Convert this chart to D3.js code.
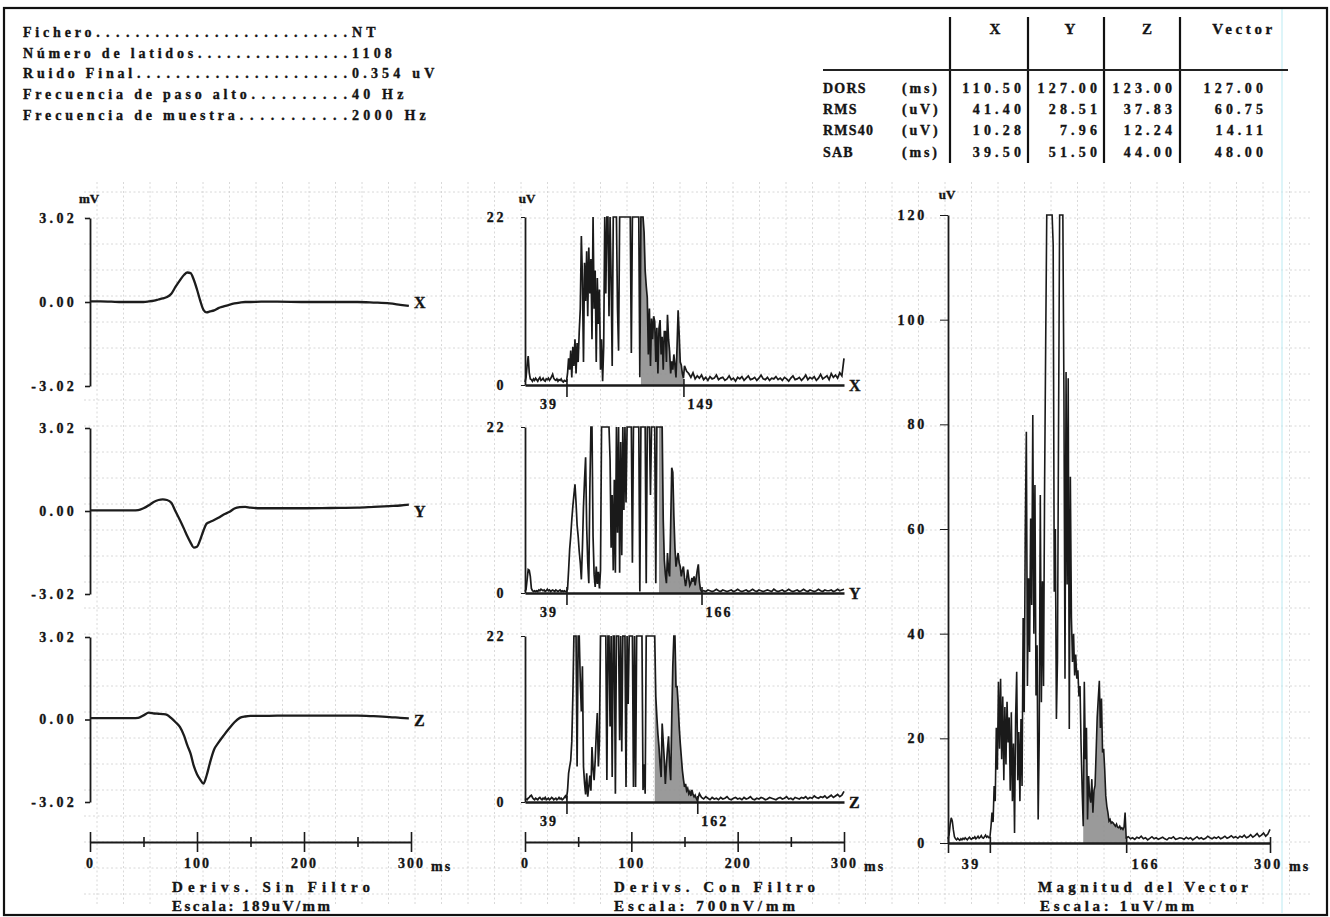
<!DOCTYPE html>
<html><head><meta charset="utf-8">
<script src="https://d3js.org/d3.v7.min.js"></script>
<style>
body{margin:0;background:#fff}
svg{display:block}
text{font-family:"Liberation Serif","DejaVu Serif",serif;font-weight:bold;fill:#141414;stroke:#141414;stroke-width:0.35px}
</style>
</head><body>
<svg id="c" width="1330" height="917"></svg>
<script>
// ---------------- DATA ----------------
const headerLabels = ["Fichero","Número de latidos","Ruido Final","Frecuencia de paso alto","Frecuencia de muestra"];
const headerValues = ["NT","1108","0.354 uV","40 Hz","2000 Hz"];

const tableCols = ["X","Y","Z","Vector"];
const tableRows = ["DORS","RMS","RMS40","SAB"];
const tableUnits = ["(ms)","(uV)","(uV)","(ms)"];
const tableValues = [
  ["110.50","127.00","123.00","127.00"],
  ["41.40","28.51","37.83","60.75"],
  ["10.28","7.96","12.24","14.11"],
  ["39.50","51.50","44.00","48.00"]
];

const leads = ["X","Y","Z"];

// unfiltered leads (mV) sampled at rawMs
const rawMs = [0,10,20,30,40,45,50,55,60,64,68,72,76,80,84,88,91,94,97,100,103,106,109,112,116,120,125,130,135,140,145,150,160,175,200,225,250,265,280,290,298];
const rawX = [0.02,0.02,0.01,0,0,0,0,0.02,0.05,0.09,0.13,0.18,0.3,0.55,0.78,0.98,1.06,1.04,0.8,0.45,0.05,-0.28,-0.37,-0.34,-0.3,-0.22,-0.16,-0.1,-0.05,-0.02,0,0,0.01,0.01,0,0,0,-0.02,-0.05,-0.1,-0.14];
const rawY = [0.02,0.02,0.02,0.02,0.02,0.03,0.1,0.21,0.34,0.4,0.42,0.4,0.3,-0.02,-0.33,-0.66,-0.92,-1.15,-1.33,-1.3,-1.05,-0.72,-0.46,-0.4,-0.33,-0.25,-0.13,-0.04,0.09,0.14,0.15,0.12,0.1,0.1,0.1,0.11,0.12,0.15,0.18,0.2,0.23];
const rawZ = [0.05,0.05,0.05,0.05,0.05,0.06,0.15,0.25,0.22,0.21,0.2,0.17,0.05,-0.1,-0.27,-0.6,-0.95,-1.25,-1.7,-2.0,-2.2,-2.35,-2.05,-1.6,-1.1,-0.85,-0.58,-0.33,-0.1,0.06,0.11,0.13,0.13,0.14,0.14,0.14,0.14,0.12,0.09,0.06,0.04];
const rawTicks = [3.02,0,-3.02];
const rawTickLabels = ["3.02","0.00","-3.02"];

const timeTicks = [0,50,100,150,200,250,300];

// filtered leads (uV): pre-QRS every 1 ms from 0, QRS every 1 ms from onset, post every 2 ms
const filtXPre = [0.4,1.0,2.6,3.8,1.6,0.8,0.7,0.5,0.8,0.6, 0.9,0.7,0.5,0.8,1.0,0.6,0.7,0.9,0.6,0.5, 0.8,0.7,0.9,0.6,0.8,1.1,1.4,0.9,0.7,0.6, 0.8,0.5,0.7,0.6,0.8,0.5,0.4,0.6,0.5];
const filtXQrs = [0.5,1.5,3.5,2.0,4.5,1.0,5.0,2.5,6.0,1.5, 5.5,3.0,7.0,10.0,19.5,14.0,3.0,16.0,11.0,17.5, 9.0,18.0,12.0,16.5,6.0,22,10.0,15.0,3.0,14.0, 8.0,12.5,2.0,6.0,0.5,5.0,22,12.0,22,22, 9.0,22,14.0,2.5,22,22,22,22,10.0,4.5, 22,22,22,22,22,22,22,22,22,22, 22,4.2,22,22,22,22,22,22,22,1.0, 22,22,22,20.0,15.0,13.0,11.4,4.0,10.0,2.5, 8.7,6.0,9.0,8.3,3.0,7.5,1.5,7.4,8.5,4.0, 6.3,2.0,7.0,7.0,3.0,9.2,6.0,4.4,1.5,3.1, 2.0,4.0,2.6,1.0,5.0,9.8,6.6,3.0,2.6,1.5, 0.9];
const filtXPost = [2.5,1.8,1.5,1.0,1.6,0.8,1.2,0.9,1.3,0.7, 1.0,0.6,1.1,0.8,0.9,1.3,0.7,0.9,1.0,0.6, 0.8,1.2,0.7,0.9,0.5,1.0,0.8,1.1,0.6,0.9, 1.2,0.7,0.8,1.0,0.6,0.9,1.3,0.8,0.7,1.0, 0.6,0.9,0.8,1.1,0.7,0.9,0.6,1.0,0.8,0.5, 0.9,1.2,0.7,0.8,1.0,0.6,0.9,1.3,0.7,1.0, 0.8,1.1,0.6,0.9,1.4,0.8,1.0,1.2,0.7,1.5, 1.0,1.3,0.9,1.6,1.2,3.5];

const filtYPre = [0.2,0.5,1.8,3.1,3.0,2.2,0.6,0.3,0.2,0.3, 0.2,0.3,0.2,0.4,0.3,0.5,0.4,0.3,0.4,0.2, 0.3,0.5,0.3,0.4,0.2,0.3,0.4,0.3,0.2,0.4, 0.3,0.2,0.3,0.4,0.2,0.3,0.2,0.3,0.2];
const filtYQrs = [0.2,0.5,3.0,5.8,7.5,9.7,11.5,13.0,14.4,12.0, 9.0,7.5,5.5,4.0,1.8,6.0,11.5,15.0,18.0,8.8, 4.0,1.3,14.0,22,22,7.5,2.5,0.8,3.5,1.2, 2.8,0.6,3.0,22,22,22,22,22,22,22, 22,17.7,6.0,13.0,3.0,15.0,2.7,22,8.0,22, 2.7,20.0,5.0,22,11.0,22,12.0,22,22,22, 22,22,4.0,22,22,22,22,22,22,0.2, 22,22,22,22,22,1.3,22,22,22,13.0, 22,22,22,22,1.3,22,22,22,22,22, 22,9.7,4.4,2.5,1.3,5.3,3.0,2.2,9.0,16.6, 16.0,10.2,6.0,3.5,4.5,5.3,4.0,3.5,2.2,3.0, 3.5,2.0,0.9,1.8,3.1,2.0,1.0,1.3,2.0,1.5, 2.2,1.0,2.0,3.0,3.8,1.5,0.5,0.2];
const filtYPost = [0.3,0.2,0.4,0.3,0.2,0.3,0.5,0.3,0.2,0.4, 0.3,0.2,0.3,0.4,0.2,0.3,0.5,0.3,0.2,0.3, 0.4,0.2,0.3,0.5,0.3,0.2,0.4,0.3,0.2,0.3, 0.4,0.3,0.2,0.5,0.3,0.2,0.3,0.4,0.2,0.3, 0.5,0.3,0.2,0.3,0.4,0.2,0.3,0.5,0.3,0.2, 0.4,0.3,0.2,0.3,0.5,0.3,0.2,0.4,0.3,0.3, 0.4,0.2,0.3,0.5,0.3,0.4,0.5];

const filtZPre = [0.3,0.4,0.3,0.5,0.6,0.8,0.9,0.6,0.4,0.3, 0.5,0.4,0.3,0.5,0.6,0.4,0.3,0.5,0.4,0.6, 0.3,0.4,0.5,0.3,0.4,0.6,0.5,0.3,0.4,0.5, 0.3,0.4,0.6,0.4,0.5,0.3,0.4,0.6,0.8];
const filtZQrs = [0.5,1.5,3.8,4.7,5.5,8.0,14.0,22,22,22, 4.7,22,22,16.0,12.0,18.0,4.7,2.5,1.0,3.8, 0.7,2.0,3.5,1.5,7.3,4.5,2.9,5.5,9.0,11.8, 4.7,8.0,22,22,22,22,22,22,2.9,22, 22,10.0,22,3.3,22,22,1.1,22,22,22, 8.2,22,6.7,22,22,22,2.0,22,13.0,22, 22,22,22,2.0,22,2.0,22,22,22,22, 22,22,1.6,5.0,1.1,22,22,22,22,22, 22,22,22,22,14.0,11.3,9.0,7.3,5.0,3.3, 10.4,8.0,5.6,2.4,5.0,7.0,8.7,5.0,2.9,10.9, 18.0,22,22,15.3,15.3,13.1,10.0,7.8,6.0,4.2, 3.0,2.0,2.4,1.5,1.8,1.1,1.4,0.8,1.6,1.0, 0.7,0.9,0.5,0.2];
const filtZPost = [1.1,0.6,0.4,0.7,0.5,0.3,0.6,0.4,0.5,0.3, 0.6,0.4,0.5,0.7,0.4,0.3,0.5,0.6,0.4,0.5, 0.3,0.6,0.4,0.5,0.7,0.4,0.3,0.5,0.4,0.6, 0.5,0.3,0.4,0.6,0.5,0.4,0.3,0.5,0.6,0.4, 0.5,0.7,0.4,0.5,0.3,0.6,0.5,0.4,0.6,0.5, 0.7,0.4,0.6,0.5,0.8,0.6,0.5,0.7,0.6,0.8, 0.5,0.7,0.9,0.6,0.8,1.0,0.7,0.9,1.4];

const vecPre = [0.8,1.5,3.5,4.8,4.2,2.5,1.2,0.8,0.6,0.9, 0.7,0.5,0.8,0.6,0.9,0.7,1.0,0.8,0.6,0.9, 1.1,0.8,0.7,1.0,0.9,1.2,0.8,1.0,1.3,0.9, 1.1,1.4,1.0,0.9,1.2,1.5,1.1,1.3,1.0];
const vecQrs = [1.0,3.0,5.8,4.0,10.9,8.0,22.0,14.0,30.8,18.0, 31.4,16.0,28.0,12.0,26.0,15.0,27.0,19.2,24.0,10.0, 25.0,8.0,19.0,1.9,24.0,32.7,12.0,21.2,8.0,23.7, 10.9,43.0,25.0,60.0,78.6,30.0,50.6,36.5,62.0,45.5, 81.8,40.0,68.4,28.2,37.8,4.5,20.0,66.5,26.9,50.0, 30.0,68.4,95.0,120,120,120,120,120,120,114.3, 48.0,60.0,23.7,35.0,80.0,120,120,120,120,86.2, 31.4,90.0,49.4,88.8,21.8,70.0,43.0,34.6,40.0,32.0, 36.0,31.4,33.0,28.0,30.0,18.6,10.0,3.2,30.8,16.0, 22.0,4.5,12.8,9.0,7.7,12.2,5.8,10.0,11.0,17.3, 24.0,27.6,31.0,22.0,27.6,17.3,18.0,14.1,9.0,7.0, 5.8,4.2,4.5,3.8,4.0,3.8,3.5,3.2,3.6,3.0, 2.9,3.2,2.7,2.9,2.6,3.0,5.8,1.0];
const vecPost = [1.2,0.8,1.0,0.7,1.1,0.9,1.3,0.8,1.0,0.6, 0.9,1.2,0.8,1.0,0.7,0.9,1.1,0.8,0.6,1.0, 0.9,1.2,0.7,0.8,1.0,0.9,0.7,1.1,0.8,1.0, 0.6,0.9,1.2,0.8,1.0,0.7,0.9,1.3,1.0,0.8, 1.1,0.9,1.2,0.8,1.0,1.3,0.9,1.1,1.4,1.0, 1.2,0.9,1.3,1.1,1.5,1.0,1.2,1.6,1.1,1.4, 1.8,1.2,1.5,1.9,1.3,1.7,2.6];

const qrsOnset = [39,39,39];
const qrsOffset = [149,166,162];
const vecOnset = 39, vecOffset = 166;
const filtMax = 22, vecMax = 120;
const vecTicks = [0,20,40,60,80,100,120];
const footerLines = [
  ["Derivs. Sin Filtro","Escala: 189uV/mm"],
  ["Derivs. Con Filtro","Escala: 700nV/mm"],
  ["Magnitud del Vector","Escala: 1uV/mm"]
];

// ---------------- DRAW ----------------
const svg = d3.select("#c");
svg.append("rect").attr("width",1330).attr("height",917).attr("fill","#fff");

function series(pre, qrs, qrsStart, post, postStart, postStep){
  const out=[];
  pre.forEach((v,i)=>out.push([i,v]));
  qrs.forEach((v,i)=>out.push([qrsStart+i,v]));
  post.forEach((v,i)=>out.push([postStart+i*postStep,v]));
  return out;
}
const filtSeries = [
  series(filtXPre, filtXQrs, 39, filtXPost, 150, 2),
  series(filtYPre, filtYQrs, 39, filtYPost, 168, 2),
  series(filtZPre, filtZQrs, 39, filtZPost, 164, 2)
];
const vecSeries = series(vecPre, vecQrs, 39, vecPost, 168, 2);
const rawSeries = [rawX, rawY, rawZ].map(a => a.map((v,i)=>[rawMs[i], v]));

// background grid (scanned graph paper)
const grid = svg.append("g").attr("stroke","#c4c4c4").attr("stroke-width",0.8)
  .attr("stroke-dasharray","2,2.5").attr("opacity",0.8);
d3.range(97, 1312, 26.5).forEach(x => grid.append("line").attr("x1",x).attr("x2",x).attr("y1",182).attr("y2",905));
d3.range(192, 905, 26).forEach(y => grid.append("line").attr("x1",84).attr("x2",1312).attr("y1",y).attr("y2",y));
svg.append("line").attr("x1",1282).attr("x2",1282).attr("y1",9).attr("y2",913).attr("stroke","#c6eef5").attr("stroke-width",1.2);

// border
svg.append("rect").attr("x",4).attr("y",8).attr("width",1323).attr("height",907)
  .attr("fill","none").attr("stroke","#111").attr("stroke-width",2.2);

// header block
const hdr = svg.append("g");
headerLabels.forEach((lab,i)=>{
  const y = 37 + i*20.7;
  const t = hdr.append("text").attr("x",23).attr("y",y).attr("font-size",14).attr("letter-spacing",3.8).text(lab);
  const x0 = 23 + t.node().getComputedTextLength() + 1;
  const gap = 347 - x0;
  const n = Math.max(3, Math.round(gap/9.6));
  hdr.append("text").attr("x",x0).attr("y",y).attr("font-size",14)
    .attr("textLength",gap).attr("lengthAdjust","spacing").text(".".repeat(n));
  hdr.append("text").attr("x",352).attr("y",y).attr("font-size",14).attr("letter-spacing",4.2).text(headerValues[i]);
});

// table
const tbl = svg.append("g");
const colLines = [950,1028,1104,1180];
colLines.forEach(x => tbl.append("line").attr("x1",x).attr("x2",x).attr("y1",17).attr("y2",163).attr("stroke","#111").attr("stroke-width",2.2));
tbl.append("line").attr("x1",823).attr("x2",1288).attr("y1",70).attr("y2",70).attr("stroke","#222").attr("stroke-width",2);
const colHeadX = [995,1070,1147,1242];
tableCols.forEach((c,i)=>tbl.append("text").attr("x",colHeadX[i]+(i===3?2:0)).attr("y",34).attr("text-anchor","middle")
  .attr("font-size",15).attr("letter-spacing",i===3?3.6:0).text(c));
const valRight = [1021,1097,1172,1263];
tableRows.forEach((r,i)=>{
  const y = 93 + i*21.2;
  tbl.append("text").attr("x",823).attr("y",y).attr("font-size",14).attr("letter-spacing",1.2).text(r);
  tbl.append("text").attr("x",902).attr("y",y).attr("font-size",14).attr("letter-spacing",2.8).text(tableUnits[i]);
  tableValues[i].forEach((v,j)=>tbl.append("text").attr("x",valRight[j]+4.2).attr("y",y)
    .attr("text-anchor","end").attr("font-size",14).attr("letter-spacing",4.2).text(v));
});

function styleAxisText(g, size, ls){
  g.selectAll("text").attr("font-family",'"Liberation Serif","DejaVu Serif",serif')
   .attr("font-weight","bold").attr("font-size",size).attr("letter-spacing",ls)
   .attr("fill","#141414").attr("stroke","#141414").attr("stroke-width",0.35);
  g.selectAll("line,path").attr("stroke","#1a1a1a");
}

// ---- left: unfiltered leads
const xLeft = d3.scaleLinear().domain([0,300]).range([90,411]);
const leftBox = [[218,386],[428,594],[637,802]];
leads.forEach((ld,k)=>{
  const y = d3.scaleLinear().domain([-3.02,3.02]).range([leftBox[k][1], leftBox[k][0]]);
  const g = svg.append("g");
  const ax = g.append("g").attr("transform","translate(90,0)")
    .call(d3.axisLeft(y).tickValues(rawTicks).tickFormat((d,i)=>rawTickLabels[i]).tickSize(5).tickSizeOuter(0));
  styleAxisText(ax, 14, 3.3);
  ax.selectAll("text").attr("x",-13);
  ax.select(".domain").attr("stroke-width",1.8);
  ax.selectAll(".tick line").attr("stroke-width",1.6);
  g.append("path").datum(rawSeries[k]).attr("fill","none").attr("stroke","#1c1c1c").attr("stroke-width",2.3)
    .attr("stroke-linejoin","round")
    .attr("d", d3.line().x(d=>xLeft(d[0])).y(d=>y(d[1])).curve(d3.curveMonotoneX));
  g.append("text").attr("x",xLeft(300)+3).attr("y",y(0)+6).attr("font-size",16).text(ld);
});
svg.append("text").attr("x",89).attr("y",203).attr("text-anchor","middle").attr("font-size",13).text("mV");

// ---- middle: filtered leads
const xMid = d3.scaleLinear().domain([0,300]).range([525,844]);
const midBox = [[217,385],[427,593],[636,802]];
leads.forEach((ld,k)=>{
  const y = d3.scaleLinear().domain([0,filtMax]).range([midBox[k][1], midBox[k][0]]);
  const data = filtSeries[k];
  const g = svg.append("g");
  const fs = qrsOffset[k]-40, fe = qrsOffset[k];
  g.append("path").datum(data.filter(d=>d[0]>=fs && d[0]<=fe)).attr("fill","#8f8f8f").attr("opacity",0.9)
    .attr("d", d3.area().x(d=>xMid(d[0])).y0(y(0)).y1(d=>y(Math.min(d[1],filtMax))));
  g.append("path").datum(data).attr("fill","none").attr("stroke","#1a1a1a").attr("stroke-width",1.7)
    .attr("d", d3.line().x(d=>xMid(d[0])).y(d=>y(Math.min(d[1],filtMax))));
  const ay = g.append("g").attr("transform","translate(525,0)")
    .call(d3.axisLeft(y).tickValues([0,filtMax]).tickSize(4).tickSizeOuter(0));
  styleAxisText(ay, 14, 2.6);
  ay.selectAll("text").attr("x",-19);
  ay.select(".domain").attr("stroke-width",1.8);
  const ax = g.append("g").attr("transform",`translate(0,${y(0)})`)
    .call(d3.axisBottom(xMid).tickValues([qrsOnset[k], qrsOffset[k]]).tickSize(12).tickSizeOuter(0));
  styleAxisText(ax, 14, 2);
  ax.select(".domain").attr("stroke-width",2.4);
  ax.selectAll(".tick line").attr("y1",-6).attr("stroke-width",1.6);
  ax.selectAll(".tick text").attr("y",14).attr("dx",(d,i)=> i===0 ? -18 : 17);
  g.append("text").attr("x",xMid(300)+5).attr("y",y(0)+6).attr("font-size",16).text(ld);
});
svg.append("text").attr("x",527).attr("y",203).attr("text-anchor","middle").attr("font-size",13).text("uV");

// ---- bottom time axes (left and middle)
[xLeft, xMid].forEach(sc=>{
  const ax = svg.append("g").attr("transform","translate(0,842)")
    .call(d3.axisBottom(sc).tickValues(timeTicks).tickFormat(d=> d%100===0 ? d : "").tickSize(10).tickSizeOuter(0));
  styleAxisText(ax, 14, 2);
  ax.select(".domain").attr("stroke-width",1.8);
  ax.selectAll(".tick line").attr("y1",d=> d%100===0 ? -10 : -5).attr("y2",d=> d%100===0 ? 10 : 5).attr("stroke-width",1.6);
  ax.selectAll(".tick text").attr("y",16);
  svg.append("text").attr("x",sc(300)+20).attr("y",871).attr("font-size",14).attr("letter-spacing",2).text("ms");
});

// ---- right: vector magnitude
const xRight = d3.scaleLinear().domain([0,300]).range([948,1270]);
const yRight = d3.scaleLinear().domain([0,vecMax]).range([843,215]);
{
  const g = svg.append("g");
  const fs = vecOffset-40, fe = vecOffset;
  g.append("path").datum(vecSeries.filter(d=>d[0]>=fs && d[0]<=fe)).attr("fill","#8f8f8f").attr("opacity",0.9)
    .attr("d", d3.area().x(d=>xRight(d[0])).y0(yRight(0)).y1(d=>yRight(Math.min(d[1],vecMax))));
  g.append("path").datum(vecSeries).attr("fill","none").attr("stroke","#1a1a1a").attr("stroke-width",1.6)
    .attr("d", d3.line().x(d=>xRight(d[0])).y(d=>yRight(Math.min(d[1],vecMax))));
  const ay = g.append("g").attr("transform","translate(948,0)")
    .call(d3.axisLeft(yRight).tickValues(vecTicks).tickSize(8).tickSizeOuter(0));
  styleAxisText(ay, 14, 2.8);
  ay.selectAll("text").attr("x",-21);
  ay.select(".domain").attr("stroke-width",1.8);
  const ax = g.append("g").attr("transform","translate(0,843)")
    .call(d3.axisBottom(xRight).tickValues([0,vecOnset,vecOffset,300]).tickFormat(d=> d===0 ? "" : d).tickSize(10).tickSizeOuter(0));
  styleAxisText(ax, 14, 2.5);
  ax.select(".domain").attr("stroke-width",2.4);
  ax.selectAll(".tick line").attr("y1",-6).attr("stroke-width",1.6);
  ax.selectAll(".tick text").attr("y",16).attr("dx",d=> d===vecOnset ? -19 : d===vecOffset ? 19 : -2);
  svg.append("text").attr("x",xRight(300)+19).attr("y",871).attr("font-size",14).attr("letter-spacing",2).text("ms");
  svg.append("text").attr("x",947).attr("y",199).attr("text-anchor","middle").attr("font-size",13).text("uV");
}

// ---- footers
const footPos = [[172,198,158],[614,201,181],[1038,210,154]];
footerLines.forEach((fl,i)=>{
  svg.append("text").attr("x",footPos[i][0]).attr("y",892).attr("font-size",15)
    .attr("textLength",footPos[i][1]).attr("lengthAdjust","spacing").text(fl[0]);
  svg.append("text").attr("x",footPos[i][0]+(i===2?2:0)).attr("y",911).attr("font-size",15)
    .attr("textLength",footPos[i][2]).attr("lengthAdjust","spacing").text(fl[1]);
});
</script>
</body></html>
